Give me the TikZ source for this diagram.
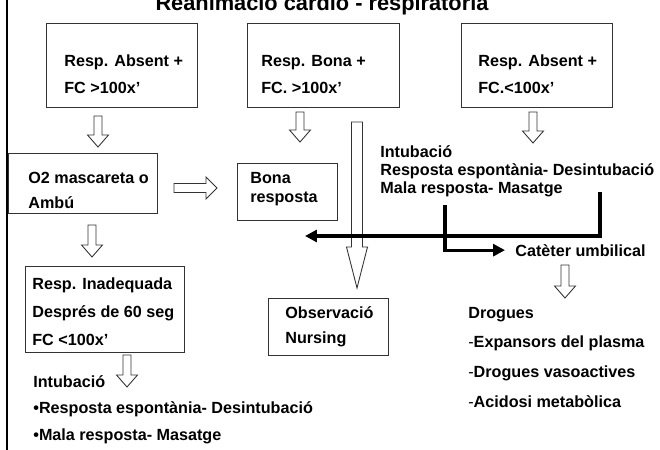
\documentclass[tikz,border=0pt]{standalone}
\usepackage{fontspec}
\setmainfont{Liberation Sans}
\usetikzlibrary{arrows.meta}
\tikzset{box/.style={draw=black!80,line width=0.6pt,anchor=north west,inner sep=0pt},txt/.style={anchor=base west,align=left,inner sep=0pt,font=\bfseries\fontsize{9.2}{#1}\selectfont},txt/.default=11pt,thickarr/.style={line width=1.8pt,-{Triangle[length=6.8pt,width=6.8pt]}},pics/hollow/.style n args={4}{code={\draw[draw=black!80,line width=0.5pt,fill=white] (-#3,0)--(#3,0)--(#3,#1-#2)--(#4,#1-#2)--(0,#1)--(-#4,#1-#2)--(-#3,#1-#2)--cycle;}}}
\begin{document}
\begin{tikzpicture}[x=0.02cm,y=-0.02cm]
\useasboundingbox (0,0) rectangle (660,450);
\draw[line width=1.7pt] (7,0)--(7,450);
\node[anchor=base,inner sep=0pt,font=\bfseries\fontsize{12.4}{14}\selectfont] (title) at (322,10) {Reanimació cardio - respiratòria};
% boxes
\node[box,minimum width=3.02cm,minimum height=1.68cm] (b1) at (46,23) {};
\node[box,minimum width=3.04cm,minimum height=1.68cm] (b2) at (247,23) {};
\node[box,minimum width=3.02cm,minimum height=1.68cm] (b3) at (461,23) {};
\node[box,minimum width=2.98cm,minimum height=1.20cm] (b4) at (8,153) {};
\node[box,minimum width=2.00cm,minimum height=1.14cm] (b5) at (237,163) {};
\node[box,minimum width=3.18cm,minimum height=1.72cm] (b6) at (25,266) {};
\node[box,minimum width=2.40cm,minimum height=1.14cm] (b7) at (268,298) {};
% texts (base = last line)
\node[txt=15.3pt] (t1) at (64,93) {Resp. Absent +\\FC >100x’};
\node[txt=15.3pt] (t2) at (261,93) {Resp. Bona +\\FC. >100x’};
\node[txt=15.3pt] (t3) at (478,93) {Resp. Absent +\\FC.<100x’};
\node[txt=14.2pt] (t4) at (28,208) {O2 mascareta o\\Ambú};
\node[txt=10.8pt] (t5) at (250,202) {Bona\\resposta};
\node[txt=15.9pt] (t6) at (32,345) {Resp. Inadequada\\Després de 60 seg\\FC <100x’};
\node[txt=14.2pt] (t7) at (285,343) {Observació\\Nursing};
\node[txt=10.2pt] (intr) at (380,193) {Intubació\\Resposta espontània- Desintubació\\Mala resposta- Masatge};
\node[txt] (cat) at (515,256) {Catèter umbilical};
\node[txt=15pt] (intl) at (33,440) {Intubació\\•Resposta espontània- Desintubació\\•Mala resposta- Masatge};
\node[txt=16.8pt] (drog) at (468,407) {Drogues\\{\mdseries-}Expansors del plasma\\{\mdseries-}Drogues vasoactives\\{\mdseries-}Acidosi metabòlica};
% hollow arrows
\pic at (98,116) {hollow={31}{12}{4}{10.5}};
\pic at (300,112) {hollow={30}{12}{4}{10.5}};
\pic at (533,112) {hollow={31}{12}{4}{10.5}};
\pic at (92,225) {hollow={32}{12}{4}{10.5}};
\pic at (127,355) {hollow={32}{12}{4}{10.5}};
\pic at (565,265) {hollow={33}{12}{4}{10.5}};
\pic[rotate=90] at (174,188) {hollow={43}{11}{4.5}{11}};
\pic at (357,122) {hollow={166}{41}{5.5}{10.5}};
% thick arrows
\coordinate (k1) at (600,192);
\coordinate (k1end) at (305,236);
\coordinate (k2) at (445,205);
\draw[thickarr] (k1) |- (k1end);
\draw[thickarr] (k2) |- ([xshift=-0.2cm]cat.west);
\end{tikzpicture}
\end{document}
